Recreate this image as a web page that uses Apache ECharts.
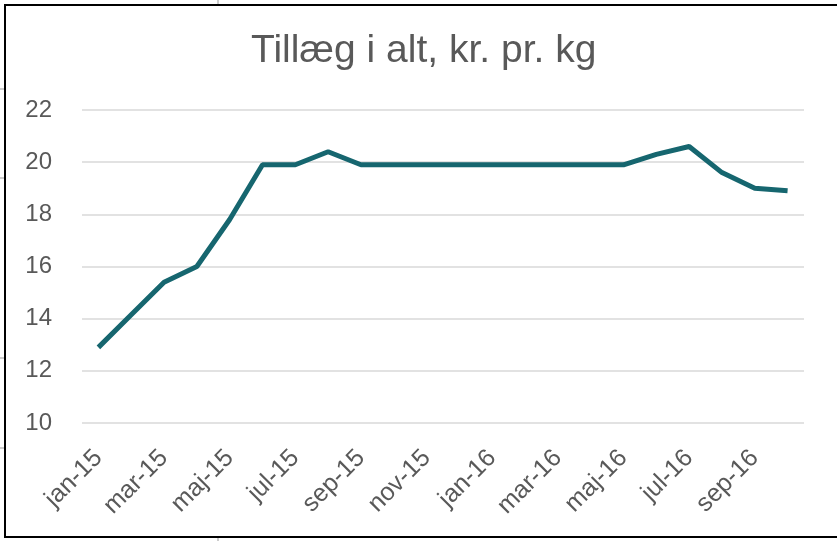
<!DOCTYPE html>
<html>
<head>
<meta charset="utf-8">
<script src="https://cdn.jsdelivr.net/npm/echarts@6/dist/echarts.min.js"></script>
<style>
  html, body { margin: 0; padding: 0; background: #fff; }
  #main { width: 837px; height: 541px; }
</style>
</head>
<body>
<div id="main"></div>
<script>
var months = [
  'jan-15', 'feb-15', 'mar-15', 'apr-15', 'maj-15', 'jun-15', 'jul-15', 'aug-15',
  'sep-15', 'okt-15', 'nov-15', 'dec-15', 'jan-16', 'feb-16', 'mar-16', 'apr-16',
  'maj-16', 'jun-16', 'jul-16', 'aug-16', 'sep-16', 'okt-16'
];
var tillaeg = [
  12.9, 14.15, 15.4, 16.0, 17.8, 19.9, 19.9, 20.4,
  19.9, 19.9, 19.9, 19.9, 19.9, 19.9, 19.9, 19.9,
  19.9, 20.3, 20.6, 19.6, 19.0, 18.9
];

var chart = echarts.init(document.getElementById('main'));
var option = {
  backgroundColor: '#ffffff',
  animation: false,
  title: {
    text: 'Tillæg i alt, kr. pr. kg',
    left: 246,
    top: 27,
    textStyle: {
      fontFamily: 'Liberation Sans, Arial, sans-serif',
      fontSize: 39,
      fontWeight: 'normal',
      color: '#595959'
    }
  },
  graphic: [
    { type: 'rect', shape: { x: 5, y: 5, width: 840, height: 532 },
      style: { fill: null, stroke: '#000', lineWidth: 2 } },
    { type: 'line', shape: { x1: 218, y1: 0, x2: 218, y2: 4 }, style: { stroke: '#999', lineWidth: 1 } },
    { type: 'line', shape: { x1: 218, y1: 538, x2: 218, y2: 541 }, style: { stroke: '#999', lineWidth: 1 } },
    { type: 'line', shape: { x1: 0, y1: 89, x2: 4, y2: 89 }, style: { stroke: '#999', lineWidth: 1 } },
    { type: 'line', shape: { x1: 0, y1: 178, x2: 4, y2: 178 }, style: { stroke: '#999', lineWidth: 1 } },
    { type: 'line', shape: { x1: 0, y1: 358, x2: 4, y2: 358 }, style: { stroke: '#999', lineWidth: 1 } },
    { type: 'line', shape: { x1: 0, y1: 448, x2: 4, y2: 448 }, style: { stroke: '#999', lineWidth: 1 } }
  ],
  grid: {
    left: 82,
    right: 33,
    top: 110,
    bottom: 118
  },
  xAxis: {
    type: 'category',
    data: months,
    boundaryGap: true,
    axisLine: { show: false },
    axisTick: { show: false },
    axisLabel: {
      interval: 1,
      rotate: 45,
      margin: 31,
      fontFamily: 'Liberation Sans, Arial, sans-serif',
      fontSize: 25,
      color: '#595959'
    }
  },
  yAxis: {
    type: 'value',
    min: 10,
    max: 22,
    interval: 2,
    axisLine: { show: false },
    axisTick: { show: false },
    splitLine: { lineStyle: { color: '#d9d9d9', width: 1.5 } },
    axisLabel: {
      margin: 30,
      fontFamily: 'Liberation Sans, Arial, sans-serif',
      fontSize: 24,
      color: '#595959'
    }
  },
  series: [
    {
      type: 'line',
      data: tillaeg,
      symbol: 'none',
      lineStyle: { color: '#16666f', width: 5 }
    }
  ]
};
chart.setOption(option);
</script>
</body>
</html>
